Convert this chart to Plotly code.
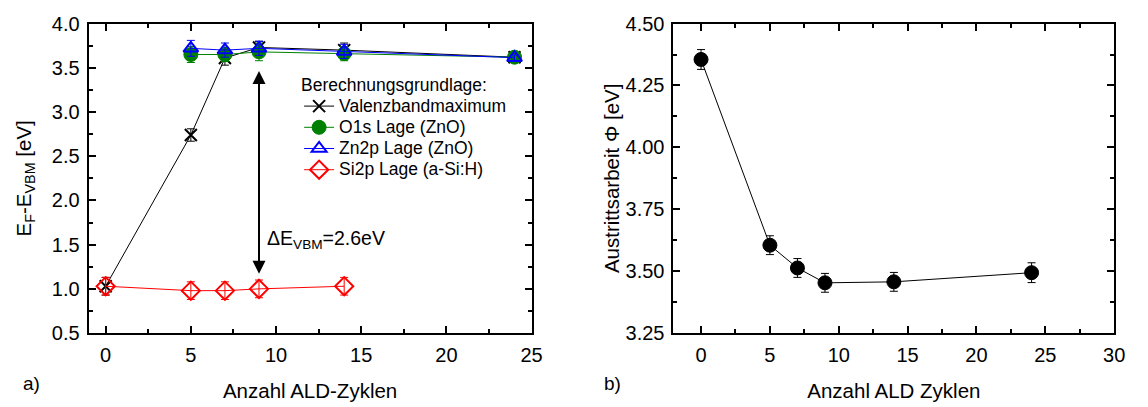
import plotly.graph_objects as go

FONT = "Liberation Sans, Arial, sans-serif"

# ---- panel a): Fermi level position relative to the VBM ----
cycles = [0, 5, 7, 9, 14, 24]
vbm = [1.03, 2.74, 3.61, 3.73, 3.70, 3.62]
vbm_err = [0.10, 0.07, 0.08, 0.07, 0.08, 0.03]

zno_cycles = [5, 7, 9, 14, 24]
o1s = [3.65, 3.65, 3.68, 3.66, 3.62]
o1s_err = [0.09, 0.08, 0.10, 0.08, 0.03]
zn2p = [3.72, 3.70, 3.72, 3.685, 3.615]
zn2p_err = [0.09, 0.08, 0.08, 0.08, 0.03]

si_cycles = [0, 5, 7, 9, 14]
si2p = [1.03, 0.98, 0.98, 1.00, 1.03]
si2p_err = [0.10, 0.10, 0.10, 0.10, 0.10]

# band offset marker between the ZnO and a-Si:H values
offset_cycle = 9
offset_low = 1.17
offset_high = 3.48
offset_label = "ΔE<sub>VBM</sub>=2.6eV"

# ---- panel b): work function ----
wf_cycles = [0, 5, 7, 9, 14, 24]
work_function = [4.355, 3.605, 3.513, 3.453, 3.457, 3.494]
wf_err = [0.04, 0.038, 0.038, 0.038, 0.038, 0.04]

left_x_ticks = [0, 5, 10, 15, 20, 25]
left_y_ticks = [0.5, 1.0, 1.5, 2.0, 2.5, 3.0, 3.5, 4.0]
right_x_ticks = [0, 5, 10, 15, 20, 25, 30]
right_y_ticks = [3.25, 3.50, 3.75, 4.00, 4.25, 4.50]

W, H = 1148, 407


def px_x(p):
    return p / W


def px_y(p):
    return 1 - p / H


def legend_text(s):
    # entries are rendered larger than the legend's base size to keep rows compact
    return f"<span style='font-size:17.5px'>{s}</span>"


fig = go.Figure()


def series(x, y, err, name, color, symbol, size, lw, xa="x", ya="y", legend=True):
    fig.add_trace(go.Scatter(
        x=x, y=y, name=legend_text(name), mode="lines+markers",
        xaxis=xa, yaxis=ya, showlegend=legend,
        line=dict(color=color, width=1),
        marker=dict(symbol=symbol, size=size, color=color,
                    line=dict(color=color, width=lw)),
        error_y=dict(type="data", array=err, visible=True,
                     color=color, thickness=1, width=4),
    ))


series(cycles, vbm, vbm_err, "Valenzbandmaximum", "black", "x-thin", 12, 2)
series(zno_cycles, o1s, o1s_err, "O1s Lage (ZnO)", "#008000", "circle", 14, 1)
series(zno_cycles, zn2p, zn2p_err, "Zn2p Lage (ZnO)", "#0000ff", "triangle-up-open", 13, 2)
series(si_cycles, si2p, si2p_err, "Si2p Lage (a-Si:H)", "#ff0000", "diamond-open", 14, 2)
series(wf_cycles, work_function, wf_err, "Austrittsarbeit", "black", "circle", 14, 1,
       xa="x2", ya="y2", legend=False)

tick_font = dict(family=FONT, size=20, color="black")
title_font = dict(family=FONT, size=20.5, color="black")

axis_common = dict(
    showline=True, linecolor="black", linewidth=2, mirror="allticks",
    ticks="inside", ticklen=7, tickwidth=2, tickcolor="black",
    showgrid=False, zeroline=False, tickfont=tick_font,
)
minor_ticks = dict(ticks="inside", ticklen=4, tickwidth=2, tickcolor="black")

y_dom = [px_y(340.5), px_y(13.3)]

fig.update_layout(
    width=W, height=H,
    margin=dict(l=0, r=0, t=0, b=0),
    paper_bgcolor="white", plot_bgcolor="white",
    font=dict(family=FONT, color="black"),
    xaxis=dict(axis_common, domain=[px_x(89.5), px_x(536.7)], range=[-1, 25],
               tickvals=left_x_ticks, ticklabelstandoff=3,
               minor=dict(minor_ticks, dtick=2.5),
               title=dict(text="Anzahl ALD-Zyklen", font=title_font, standoff=19),
               anchor="y"),
    yaxis=dict(axis_common, domain=y_dom, range=[0.5, 4.0],
               tickvals=left_y_ticks, tickformat=".1f", ticklabelstandoff=3,
               minor=dict(minor_ticks, dtick=0.25),
               title=dict(text="E<sub>F</sub>-E<sub>VBM</sub> [eV]", font=title_font, standoff=15),
               anchor="x"),
    xaxis2=dict(axis_common, domain=[px_x(680), px_x(1125)], range=[-2, 30],
                tickvals=right_x_ticks, ticklabelstandoff=3,
                minor=dict(minor_ticks, dtick=2.5),
                title=dict(text="Anzahl ALD Zyklen", font=title_font, standoff=19),
                anchor="y2"),
    yaxis2=dict(axis_common, domain=y_dom, range=[3.25, 4.50],
                tickvals=right_y_ticks, tickformat=".2f", ticklabelstandoff=3,
                minor=dict(minor_ticks, dtick=0.125),
                title=dict(text="Austrittsarbeit Φ [eV]", font=title_font, standoff=0),
                anchor="x2"),
    legend=dict(
        x=px_x(302), y=px_y(60), xanchor="left", yanchor="top",
        bgcolor="rgba(0,0,0,0)", borderwidth=0,
        font=dict(family=FONT, size=14, color="black"),
        title=dict(text="Berechnungsgrundlage:", font=dict(family=FONT, size=17.5, color="black")),
        tracegroupgap=0, itemwidth=30,
    ),
    showlegend=True,
)

# double-headed arrow for the valence band offset
fig.add_annotation(
    x=offset_cycle, y=offset_low, ax=offset_cycle, ay=offset_high,
    xref="x", yref="y", axref="x", ayref="y",
    showarrow=True, arrowside="end+start", arrowhead=2, arrowsize=1.3,
    arrowwidth=2, arrowcolor="black", text="",
)
fig.add_annotation(
    x=offset_cycle + 0.35, y=1.56, xref="x", yref="y",
    text=offset_label, showarrow=False, xanchor="left", yanchor="middle",
    font=dict(family=FONT, size=19.5, color="black"),
)

# panel labels
fig.add_annotation(x=px_x(21), y=px_y(394), xref="paper", yref="paper",
                   text="a)", showarrow=False, xanchor="left", yanchor="middle",
                   font=dict(family=FONT, size=19, color="black"))
fig.add_annotation(x=px_x(608), y=px_y(394), xref="paper", yref="paper",
                   text="b)", showarrow=False, xanchor="left", yanchor="middle",
                   font=dict(family=FONT, size=19, color="black"))

fig.write_html("out.html")
